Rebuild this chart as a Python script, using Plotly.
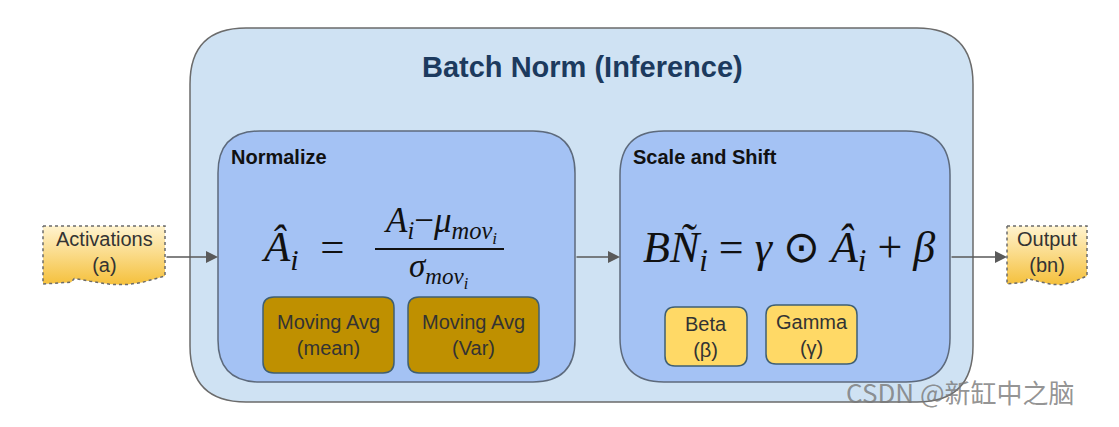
import numpy as np
import plotly.graph_objects as go

W, H = 1119, 427
PAD = 8  # page body margin: axes start at page pixel 8

# text content
title = "Batch Norm (Inference)"
stage_titles = ["Normalize", "Scale and Shift"]
param_labels = ["Moving Avg<br>(mean)", "Moving Avg<br>(Var)", "Beta<br>(β)", "Gamma<br>(γ)"]
io_labels = ["Activations<br>(a)", "Output<br>(bn)"]
watermark = "CSDN @新缸中之脑"

# box geometry (x0, y0, x1, y1, radius) in page pixels, y down
outer_box = (190, 28, 973, 402, 56)
stage_boxes = [(218, 131, 575, 382, 42), (620, 131, 950, 382, 44)]
param_boxes = [(263, 297, 394, 373, 11), (408, 297, 539, 373, 11),
               (665, 307, 747, 366, 10), (766, 305, 857, 364, 10)]
param_fills = ["#bf9000", "#bf9000", "#ffd966", "#ffd966"]
io_boxes = [(43, 226, 165, 276), (1007, 226, 1087, 276)]
arrow_y = 257

SERIF = "Liberation Serif"
SANS = "Liberation Sans, Arial, sans-serif"


def rrect(x0, y0, x1, y1, r):
    return (f"M{x0+r},{y0} L{x1-r},{y0} Q{x1},{y0} {x1},{y0+r} "
            f"L{x1},{y1-r} Q{x1},{y1} {x1-r},{y1} L{x0+r},{y1} "
            f"Q{x0},{y1} {x0},{y1-r} L{x0},{y0+r} Q{x0},{y0} {x0+r},{y0} Z")


def doc_outline(x0, y0, x1, y1):
    # document shape: flat top, wavy bottom
    t = np.linspace(0, 1, 40)
    bx = x1 - t * (x1 - x0)
    by = y1 + 6 * np.sin(np.pi * 1.6 * t) * (t < 0.75) + 8 * t
    xs = [x0, x1] + list(bx) + [x0]
    ys = [y0, y0] + list(by) + [y0]
    return xs, ys


fig = go.Figure()
shapes = []
ann = []

shapes.append(dict(type="path", path=rrect(*outer_box), fillcolor="#cfe2f3",
                   line=dict(color="#6b6b6b", width=1.5), layer="below"))
for b in stage_boxes:
    shapes.append(dict(type="path", path=rrect(*b), fillcolor="#a4c2f4",
                       line=dict(color="#5d6a7c", width=1.5), layer="below"))
for b, c in zip(param_boxes, param_fills):
    shapes.append(dict(type="path", path=rrect(*b), fillcolor=c,
                       line=dict(color="#3f5f73", width=1.5), layer="below"))

for b, lab in zip(param_boxes, param_labels):
    ann.append(dict(x=(b[0] + b[2]) / 2, y=(b[1] + b[3]) / 2, text=lab,
                    showarrow=False, font=dict(family=SANS, size=20, color="#333333")))

for b, lab in zip(io_boxes, io_labels):
    xs, ys = doc_outline(*b)
    fig.add_trace(go.Scatter(
        x=xs, y=ys, mode="lines", fill="toself",
        fillgradient=dict(type="vertical", start=b[1], stop=b[3] + 8,
                          colorscale=[[0, "#fff3cf"], [1, "#f5c13e"]]),
        line=dict(color="#6b6b6b", width=1.5, dash="dot"),
        hoverinfo="skip", showlegend=False))
    ann.append(dict(x=(b[0] + b[2]) / 2, y=(b[1] + b[3]) / 2 + 1, text=lab,
                    showarrow=False, font=dict(family=SANS, size=20, color="#333333")))

# arrows
for x_from, x_to in [(165, 218), (575, 620), (950, 1007)]:
    ann.append(dict(x=x_to, y=arrow_y, ax=x_from, ay=arrow_y, xref="x", yref="y",
                    axref="x", ayref="y", text="", showarrow=True, arrowhead=2,
                    arrowsize=1.6, arrowwidth=1.5, arrowcolor="#5a5a5a"))

# titles
ann.append(dict(x=582, y=67, text=f"<b>{title}</b>", showarrow=False,
                font=dict(family=SANS, size=29, color="#1c3a5e")))
for b, t in zip(stage_boxes, stage_titles):
    ann.append(dict(x=b[0] + 11, y=157, text=f"<b>{t}</b>", showarrow=False,
                    xanchor="left", font=dict(family=SANS, size=20, color="#111111")))

# left formula
mf = dict(family=SERIF, color="#111111")
ann.append(dict(x=259, y=250, text="<i>Â<sub>i</sub></i>  =", showarrow=False,
                xanchor="left", font=dict(size=43, **mf)))
ann.append(dict(x=440, y=224, text="<i>A<sub>i</sub></i>−<i>μ<sub>mov<sub>i</sub></sub></i>",
                showarrow=False, font=dict(size=35, **mf)))
ann.append(dict(x=438, y=270, text="<i>σ<sub>mov<sub>i</sub></sub></i>",
                showarrow=False, font=dict(size=33, **mf)))
shapes.append(dict(type="line", x0=375, x1=504, y0=249, y1=249,
                   line=dict(color="#111111", width=2)))

# right formula
ann.append(dict(x=789, y=250, text="<i>BÑ<sub>i</sub></i> = <i>γ</i> ⊙ <i>Â<sub>i</sub></i> + <i>β</i>",
                showarrow=False, font=dict(size=44, **mf)))

ann.append(dict(x=960, y=391, text=watermark, showarrow=False,
                font=dict(family="Noto Sans CJK SC", size=26, color="rgba(120,120,120,0.8)")))

fig.update_layout(
    width=W - PAD, height=H - PAD, margin=dict(l=0, r=0, t=0, b=0),
    paper_bgcolor="white", plot_bgcolor="white",
    xaxis=dict(range=[PAD, W], visible=False, fixedrange=True),
    yaxis=dict(range=[H, PAD], visible=False, fixedrange=True),
    shapes=shapes, annotations=ann, showlegend=False,
)
fig.write_html("out.html")
